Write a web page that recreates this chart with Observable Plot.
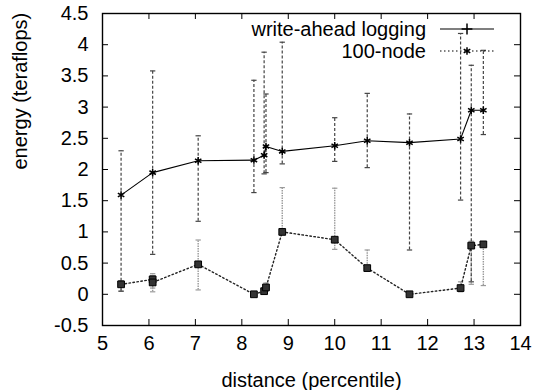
<!DOCTYPE html>
<html><head><meta charset="utf-8">
<script src="https://cdn.jsdelivr.net/npm/d3@7"></script>
<script src="https://cdn.jsdelivr.net/npm/@observablehq/plot@0.6"></script>
<style>
html,body{margin:0;padding:0;background:#fff;}
#wrap{position:relative;width:534px;height:390px;font-family:"Liberation Sans",Arial,sans-serif;}
#legend{position:absolute;left:0;top:0;}
</style></head><body><div id="wrap"></div>
<script>
const seriesNames = ["write-ahead logging", "100-node"];
const xLabel = "distance (percentile)";
const yLabel = "energy (teraflops)";
const xTicks = [5, 6, 7, 8, 9, 10, 11, 12, 13, 14];
const yTicks = [-0.5, 0, 0.5, 1, 1.5, 2, 2.5, 3, 3.5, 4, 4.5];

// write-ahead logging
const walX  = [5.4, 6.08, 7.06, 8.26, 8.48, 8.52, 8.87, 10.0, 10.7, 11.61, 12.71, 12.94, 13.2];
const walY  = [1.59, 1.95, 2.14, 2.15, 2.23, 2.37, 2.29, 2.38, 2.46, 2.43, 2.49, 2.95, 2.95];
const walLo = [0.05, 0.64, 1.17, 1.63, 1.93, 1.95, 2.09, 2.13, 2.03, 0.71, 1.51, 0.20, 2.56];
const walHi = [2.30, 3.58, 2.54, 3.43, 3.88, 3.21, 4.04, 2.83, 3.22, 2.89, 4.18, 3.67, 3.91];

// 100-node
const nodeX  = [5.4, 6.08, 6.08, 7.06, 8.26, 8.48, 8.52, 8.87, 10.0, 10.7, 11.61, 12.71, 12.94, 13.2];
const nodeY  = [0.16, 0.24, 0.19, 0.48, 0.0, 0.05, 0.11, 1.0, 0.875, 0.42, 0.0, 0.10, 0.78, 0.80];
const nodeLo = [0.05, 0.04, 0.10, 0.07, 0.0, 0.03, 0.05, 1.0, 0.72, 0.40, 0.0, 0.04, 0.16, 0.14];
const nodeHi = [0.22, 0.33, 0.30, 0.87, 0.0, 0.08, 0.18, 1.71, 1.70, 0.71, 0.0, 0.20, 0.85, 0.80];

const wal = walX.map((x, i) => ({x, y: walY[i], lo: walLo[i], hi: walHi[i]}));
const node = nodeX.map((x, i) => ({x, y: nodeY[i], lo: nodeLo[i], hi: nodeHi[i]}));

const capSymbol = {draw(ctx, size) { const r = Math.sqrt(size) / 2; ctx.moveTo(-r, 0); ctx.lineTo(r, 0); }};

const M = {top: 13, right: 14, bottom: 65, left: 102};
const W = 534, H = 390;
const pw = W - M.left - M.right, ph = H - M.top - M.bottom;

const chart = Plot.plot({
  width: W, height: H,
  marginTop: M.top, marginRight: M.right, marginBottom: M.bottom, marginLeft: M.left,
  style: {fontFamily: '"Liberation Sans", Arial, sans-serif', fontSize: "20px", background: "#fff", color: "#000"},
  x: {domain: [5, 14]},
  y: {domain: [-0.5, 4.5]},
  marks: [
    // error bars, 100-node
    Plot.ruleX(node.filter(d => d.hi > d.lo), {x: "x", y1: "lo", y2: "hi", stroke: "#9a9a9a", strokeWidth: 1.4, strokeDasharray: "1.5,1"}),
    Plot.dot(node.filter(d => d.hi > d.lo), {x: "x", y: "hi", symbol: capSymbol, r: 3, stroke: "#9a9a9a", strokeWidth: 1.2}),
    Plot.dot(node.filter(d => d.hi > d.lo), {x: "x", y: "lo", symbol: capSymbol, r: 3, stroke: "#9a9a9a", strokeWidth: 1.2}),
    // error bars, write-ahead logging
    Plot.ruleX(wal, {x: "x", y1: "lo", y2: "hi", stroke: "#444", strokeWidth: 1.2, strokeDasharray: "3,2"}),
    Plot.dot(wal, {x: "x", y: "hi", symbol: capSymbol, r: 3, stroke: "#444", strokeWidth: 1.2}),
    Plot.dot(wal, {x: "x", y: "lo", symbol: capSymbol, r: 3, stroke: "#444", strokeWidth: 1.2}),
    // lines
    Plot.line(wal, {x: "x", y: "y", stroke: "#000", strokeWidth: 1.1}),
    Plot.line(node, {x: "x", y: "y", stroke: "#222", strokeWidth: 1.4, strokeDasharray: "1.5,2.5"}),
    // markers
    Plot.dot(wal, {x: "x", y: "y", symbol: "asterisk", r: 3.5, stroke: "#000", strokeWidth: 1.5}),
    Plot.dot(node, {x: "x", y: "y", symbol: "square", r: 3.8, fill: "#333", stroke: "#000", strokeWidth: 1}),
    // inward ticks
    Plot.tickX(xTicks, {x: d => d, insetTop: ph - 6, stroke: "#000"}),
    Plot.tickX(xTicks, {x: d => d, insetBottom: ph - 6, stroke: "#000"}),
    Plot.tickY(yTicks, {y: d => d, insetRight: pw - 6, stroke: "#000"}),
    Plot.tickY(yTicks, {y: d => d, insetLeft: pw - 6, stroke: "#000"}),
    // axes labels
    Plot.axisX(xTicks, {tickSize: 0, tickPadding: 10, tickFormat: d => String(d), label: null}),
    Plot.axisY(yTicks, {tickSize: 0, tickPadding: 14, tickFormat: d => String(d), label: null}),
    Plot.text([xLabel], {text: d => d, frameAnchor: "bottom", dy: 55, lineAnchor: "middle", fontSize: 20}),
    Plot.text([yLabel], {text: d => d, frameAnchor: "left", dx: -82, rotate: -90, lineAnchor: "middle", fontSize: 20}),
    Plot.frame({stroke: "#000", strokeWidth: 1.4})
  ]
});
const wrap = document.getElementById("wrap");
wrap.appendChild(chart);

// legend overlay
const leg = d3.select(wrap).append("svg").attr("id", "legend").attr("width", W).attr("height", 70)
  .style("font-family", '"Liberation Sans", Arial, sans-serif').style("font-size", "20px");
const rows = [
  {name: seriesNames[0], y: 29, dash: null, sym: d3.symbolPlus},
  {name: seriesNames[1], y: 51, dash: "1.5,2.5", sym: d3.symbolAsterisk}
];
rows.forEach(r => {
  leg.append("text").attr("x", 426).attr("y", r.y).attr("dy", "0.35em").attr("text-anchor", "end").text(r.name);
  leg.append("line").attr("x1", 440).attr("x2", 494).attr("y1", r.y).attr("y2", r.y)
    .attr("stroke", "#000").attr("stroke-width", 1.2).attr("stroke-dasharray", r.dash);
  leg.append("path").attr("d", d3.symbol(r.sym, 40)()).attr("transform", `translate(467,${r.y})`)
    .attr("fill", "none").attr("stroke", "#000").attr("stroke-width", 1.5);
});
</script></body></html>
